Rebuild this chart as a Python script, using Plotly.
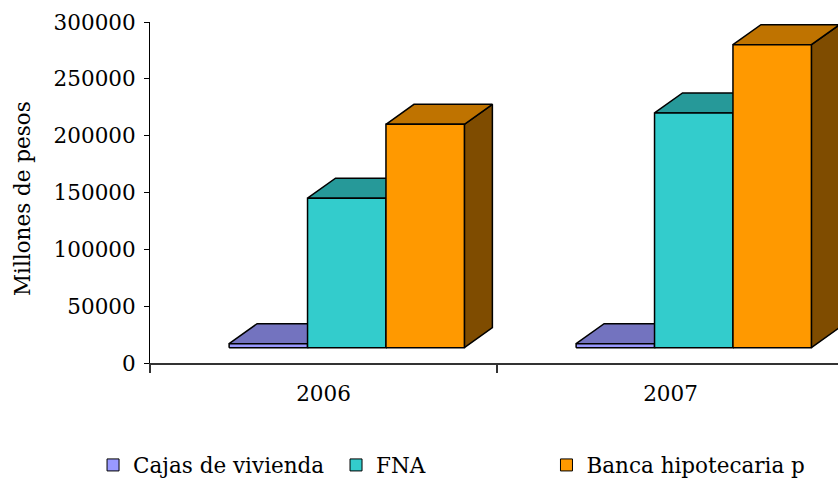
import plotly.graph_objects as go

# ---- data ----
years = ["2006", "2007"]
series_names = ["Cajas de vivienda", "FNA", "Banca hipotecaria p"]
cajas = [17000, 17000]
fna = [145000, 220000]
banca = [210000, 280000]
y_ticks = [0, 50000, 100000, 150000, 200000, 250000, 300000]
y_title = "Millones de pesos"

# ---- style ----
front_colors = ["#9999FF", "#33CCCC", "#FF9900"]
top_colors = ["#7373BF", "#269999", "#BF7300"]
side_colors = ["#4C4C7F", "#196666", "#7F4C00"]
FONT = "DejaVu Serif"
FS = 21.5
legend_pad = [1, 17, 0]  # non-breaking spaces to mimic legend column spacing

# 3D geometry (in axis units)
BASE = 13500      # floor level of the bar fronts
BAR_W = 0.226     # bar width as fraction of category
GROUP_OFF = 0.228 # left offset of first bar within the category
DX = 0.0807       # depth offset in x
DY = 17600        # depth offset in y

values = [cajas, fna, banca]

fig = go.Figure()

def poly(xs, ys, color):
    fig.add_trace(go.Scatter(
        x=xs + [xs[0]], y=ys + [ys[0]], mode="lines", fill="toself",
        fillcolor=color, line=dict(color="black", width=1.5),
        hoverinfo="skip", showlegend=False))

for i in range(len(years)):
    for j, vals in enumerate(values):
        v = vals[i]
        x0 = i + GROUP_OFF + j * BAR_W
        x1 = x0 + BAR_W
        # side face
        poly([x1, x1, x1 + DX, x1 + DX], [BASE, v, v + DY, BASE + DY], side_colors[j])
        # top face
        poly([x0, x1, x1 + DX, x0 + DX], [v, v, v + DY, v + DY], top_colors[j])
        # front face
        poly([x0, x1, x1, x0], [BASE, BASE, v, v], front_colors[j])

# legend entries
for j, name in enumerate(series_names):
    fig.add_trace(go.Bar(x=[None], y=[None], name=name + "\u00a0" * legend_pad[j],
                         marker=dict(color=front_colors[j], line=dict(color="black", width=1))))

fig.add_annotation(text=y_title, textangle=-90, xref="paper", yref="paper",
                   x=(22 - 150) / 688, y=(363 - 199) / 341, xanchor="center", yanchor="middle",
                   showarrow=False, font=dict(family=FONT, size=FS, color="black"))

fig.update_layout(
    width=838, height=479,
    margin=dict(l=150, r=0, t=22, b=116, autoexpand=False),
    paper_bgcolor="white", plot_bgcolor="white",
    font=dict(family=FONT, size=FS, color="black"),
    showlegend=True,
    legend=dict(orientation="h", x=-0.0828, xanchor="left", y=-0.299, yanchor="middle",
                font=dict(family=FONT, size=FS, color="black"), traceorder="normal"),
    xaxis=dict(range=[0, 688 / 347], tickvals=[0.5, 1.5], ticktext=years, ticks="",
               showline=True, linecolor="#333333", linewidth=1.5, showgrid=False, zeroline=False,
               ticklabelstandoff=10,
               minor=dict(tickvals=[0, 1, 2], ticks="outside", ticklen=8, tickcolor="#333333",
                          tickwidth=1.5, showgrid=False)),
    yaxis=dict(range=[0, 300000], tickvals=y_ticks, ticktext=[str(v) for v in y_ticks],
               ticks="outside", ticklen=5, tickcolor="black", showline=True, linecolor="black",
               linewidth=1, showgrid=False, zeroline=False, ticklabelstandoff=4),
)

fig.write_html("out.html", config={"displayModeBar": False},
               post_script="document.body.style.margin='0px';document.body.style.overflow='hidden';")
